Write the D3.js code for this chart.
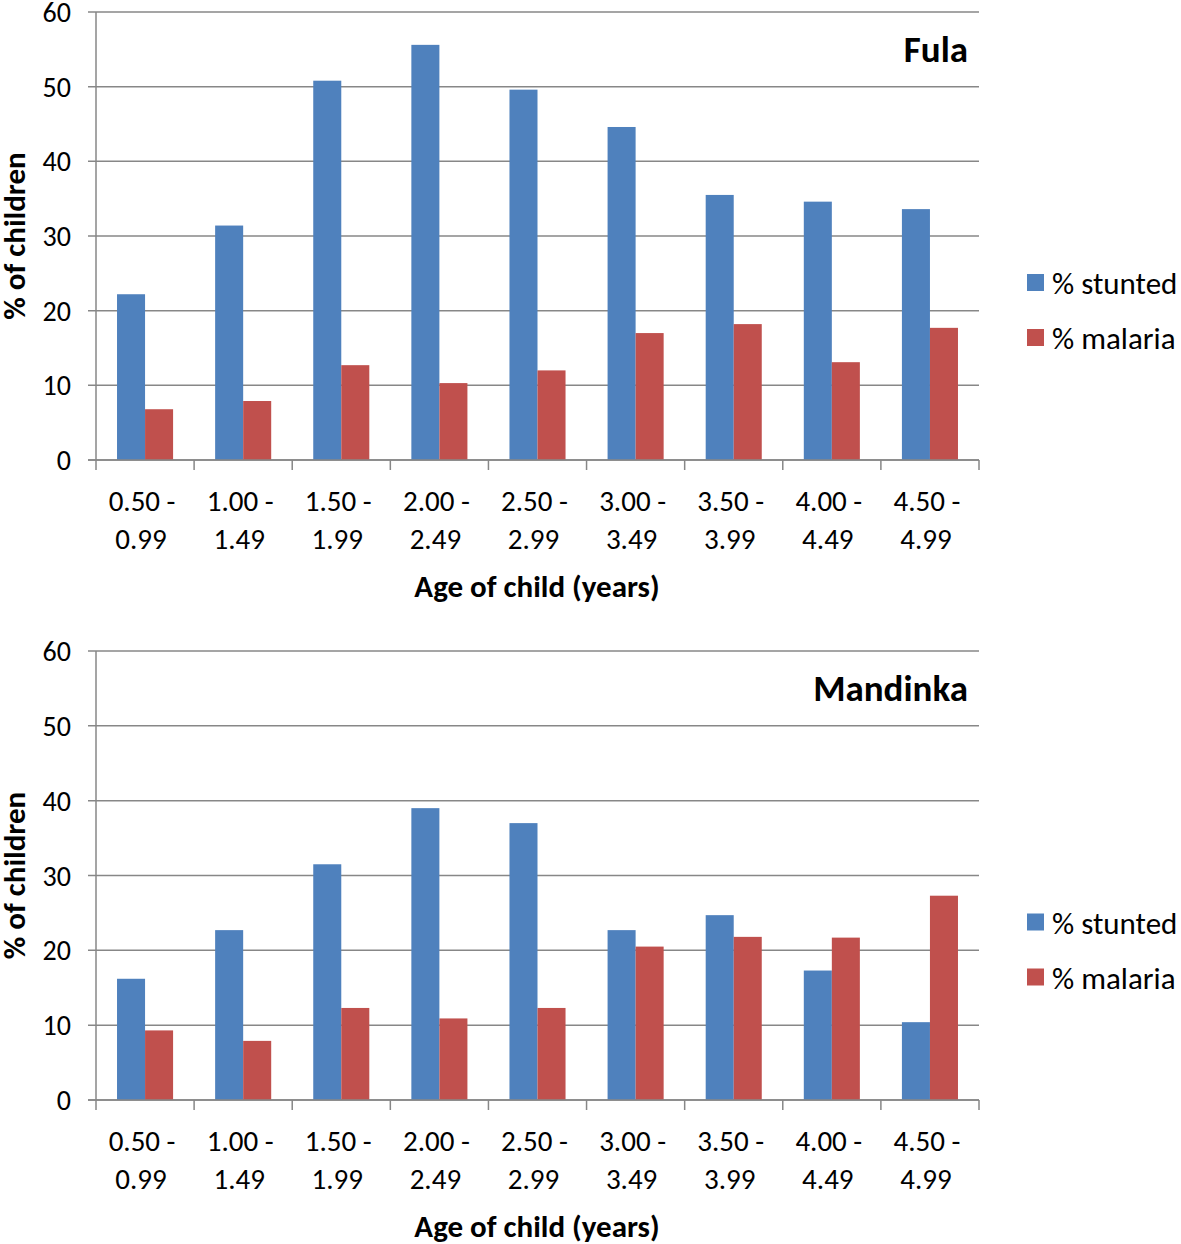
<!DOCTYPE html>
<html><head><meta charset="utf-8">
<script src="https://cdn.jsdelivr.net/npm/d3@7"></script>
<style>body{margin:0;background:#fff}svg text{font-family:Carlito,Calibri,Lato,"Open Sans",sans-serif;fill:#000}</style>
</head><body>
<svg id="c" width="1181" height="1244"></svg>
<script>
const categories = ["0.50 - 0.99","1.00 - 1.49","1.50 - 1.99","2.00 - 2.49","2.50 - 2.99","3.00 - 3.49","3.50 - 3.99","4.00 - 4.49","4.50 - 4.99"];
const seriesNames = ["% stunted","% malaria"];
const fulaStunted = [22.2,31.4,50.8,55.6,49.6,44.6,35.5,34.6,33.6];
const fulaMalaria = [6.8,7.9,12.7,10.3,12.0,17.0,18.2,13.1,17.7];
const mandinkaStunted = [16.2,22.7,31.5,39.0,37.0,22.7,24.7,17.3,10.4];
const mandinkaMalaria = [9.3,7.9,12.3,10.9,12.3,20.5,21.8,21.7,27.3];
const yTicks = [0,10,20,30,40,50,60];
const colors = ["#4F81BD","#C0504D"];

const svg = d3.select("#c");
const W = {left:96,right:979};

function panel(top, bottom, title, s1, s2){
  const g = svg.append("g");
  const x = d3.scaleBand().domain(categories).range([W.left,W.right]).padding(0);
  const y = d3.scaleLinear().domain([0,60]).range([bottom, top]);
  g.selectAll(".grid").data(yTicks).enter().append("line")
    .attr("x1",88).attr("x2",W.right).attr("y1",d=>y(d)).attr("y2",d=>y(d))
    .attr("stroke","#878787").attr("stroke-width",1.5);
  g.selectAll(".yl").data(yTicks).enter().append("text")
    .attr("x",71).attr("y",d=>y(d)).attr("dy","0.36em").attr("text-anchor","end")
    .attr("font-size",28).text(d=>d);
  const inner = d3.scaleBand().domain([0,1]).range([0,x.bandwidth()]).paddingInner(0).paddingOuter(0.75);
  [s1,s2].forEach((vals,si)=>{
    g.selectAll(".b"+si).data(vals).enter().append("rect")
      .attr("x",(d,i)=>x(categories[i])+inner(si))
      .attr("width",inner.bandwidth())
      .attr("y",d=>y(d)).attr("height",d=>y(0)-y(d))
      .attr("fill",colors[si]);
  });
  g.append("line").attr("x1",W.left).attr("x2",W.left).attr("y1",y(60)).attr("y2",y(0))
    .attr("stroke","#878787").attr("stroke-width",1.5);
  g.append("line").attr("x1",88).attr("x2",W.right).attr("y1",y(0)).attr("y2",y(0))
    .attr("stroke","#878787").attr("stroke-width",1.5);
  const bounds = categories.map(c=>x(c)).concat([W.right]);
  g.selectAll(".xt").data(bounds).enter().append("line")
    .attr("x1",d=>d).attr("x2",d=>d).attr("y1",y(0)).attr("y2",y(0)+10)
    .attr("stroke","#878787").attr("stroke-width",1.5);
  categories.forEach(c=>{
    const parts = c.split(" - ");
    const t = g.append("text").attr("text-anchor","middle").attr("font-size",29);
    t.append("tspan").attr("x",x(c)+x.bandwidth()/2-3).attr("y",bottom+51).text(parts[0]+" -");
    t.append("tspan").attr("x",x(c)+x.bandwidth()/2-4).attr("y",bottom+89).text(parts[1]);
  });
  g.append("text").attr("x",537).attr("y",bottom+137).attr("text-anchor","middle")
    .attr("font-size",31).attr("font-weight","bold").text("Age of child (years)");
  g.append("text").attr("transform",`translate(25,${(top+bottom)/2}) rotate(-90)`)
    .attr("text-anchor","middle").attr("font-size",31).attr("font-weight","bold").text("% of children");
  g.append("text").attr("x",968).attr("y",top+50).attr("text-anchor","end")
    .attr("font-size",37).attr("font-weight","bold").text(title);
  const ly = (top+bottom)/2;
  seriesNames.forEach((n,i)=>{
    const cy = ly + 47 + i*55;
    g.append("rect").attr("x",1027).attr("y",cy-9).attr("width",17).attr("height",17).attr("fill",colors[i]);
    g.append("text").attr("x",1052).attr("y",cy).attr("dy","0.36em").attr("font-size",31).text(n);
  });
}
panel(12, 460, "Fula", fulaStunted, fulaMalaria);
panel(651, 1100, "Mandinka", mandinkaStunted, mandinkaMalaria);
</script>
</body></html>
